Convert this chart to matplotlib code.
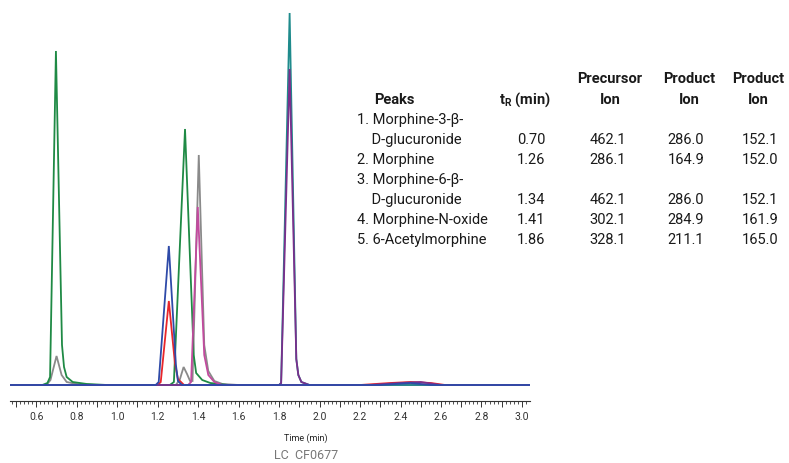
import matplotlib
matplotlib.use("Agg")
import matplotlib.pyplot as plt

# ----------------------
# Chromatogram traces (time in min, response)
# ----------------------
gray_t = [0.47, 0.65, 0.67, 0.70, 0.725, 0.75, 0.80, 0.90, 1.29, 1.31, 1.328, 1.345,
          1.36, 1.372, 1.403, 1.43, 1.45, 1.48, 1.52, 1.60, 3.04]
gray_h = [0, 0, 5, 29, 10, 3, 1, 0, 0, 6, 18, 11, 4, 4, 230, 40, 14, 4, 1, 0, 0]

green_t = [0.47, 0.63, 0.655, 0.668, 0.697, 0.727, 0.737, 0.75, 0.78, 0.85, 0.95,
           1.26, 1.28, 1.335, 1.378, 1.39, 1.42, 1.46, 1.55, 3.04]
green_h = [0, 0, 2, 8, 334, 40, 18, 8, 3, 1, 0, 0, 3, 256, 30, 12, 5, 2, 0, 0]

red_t = [0.47, 1.20, 1.215, 1.255, 1.285, 1.30, 1.33, 2.20, 2.35, 2.45, 2.55, 2.62, 3.04]
red_h = [0, 0, 3, 84, 22, 6, 0, 0, 2, 3, 2, 0, 0]

magenta_t = [0.47, 1.35, 1.365, 1.398, 1.43, 1.45, 1.48, 1.52, 3.04]
magenta_h = [0, 0, 3, 178, 30, 10, 3, 0, 0]

teal_t = [0.47, 1.80, 1.81, 1.852, 1.885, 1.895, 1.91, 1.95, 3.04]
teal_h = [0, 0, 2, 372, 26, 10, 3, 0, 0]

purple_t = [0.47, 1.80, 1.81, 1.852, 1.885, 1.895, 1.91, 1.95, 2.25, 2.40, 2.50, 2.60, 3.04]
purple_h = [0, 0, 2, 316, 26, 10, 3, 0, 0, 2, 3, 0, 0]

blue_t = [0.47, 1.19, 1.205, 1.255, 1.29, 1.30, 1.32, 2.30, 2.45, 2.55, 3.04]
blue_h = [0, 0, 3, 139, 20, 4, 0, 0, 2, 0, 0]

# ----------------------
# Table
# ----------------------
peak_names = ["1. Morphine-3-β-\n    D-glucuronide", "2. Morphine",
              "3. Morphine-6-β-\n    D-glucuronide", "4. Morphine-N-oxide",
              "5. 6-Acetylmorphine"]
tr_values = ["0.70", "1.26", "1.34", "1.41", "1.86"]
precursor = ["462.1", "286.1", "462.1", "302.1", "328.1"]
product1 = ["286.0", "164.9", "286.0", "284.9", "211.1"]
product2 = ["152.1", "152.0", "152.1", "161.9", "165.0"]

tick_vals = [round(0.5 + 0.1 * i, 1) for i in range(26)]
label_vals = [0.6, 0.8, 1.0, 1.2, 1.4, 1.6, 1.8, 2.0, 2.2, 2.4, 2.6, 2.8, 3.0]

plt.rcParams["font.family"] = ["Roboto", "DejaVu Sans"]

fig = plt.figure(figsize=(7.89, 4.64), dpi=100)
W, H = 789, 464
ax = fig.add_axes([10 / W, 1 - 402 / H, 520 / W, 392 / H])

traces = [
    (gray_t, gray_h, "#8a8a8a"),
    (green_t, green_h, "#1f8a45"),
    (red_t, red_h, "#e8262b"),
    (magenta_t, magenta_h, "#c24a9e"),
    (teal_t, teal_h, "#1f8b8c"),
    (purple_t, purple_h, "#7a2f8c"),
    (blue_t, blue_h, "#2e4aa8"),
]
for t, h, c in traces:
    ax.plot(t, h, color=c, lw=1.3, solid_joinstyle="miter")

ax.set_xlim(0.47, 3.04)
ax.set_ylim(-16, 376)
ax.set_yticks([])
for s in ["left", "right", "top"]:
    ax.spines[s].set_visible(False)
ax.spines["bottom"].set_color("#333333")
ax.spines["bottom"].set_linewidth(0.8)

ax.set_xticks(tick_vals)
ax.set_xticklabels([f"{v:.1f}" if v in label_vals else "" for v in tick_vals])
ax.set_xticks([x / 100 for x in range(48, 304, 2)], minor=True)
ax.tick_params(axis="x", which="major", length=4, width=0.7, color="#333333",
               labelsize=7.5, pad=3, labelcolor="#333333")
ax.tick_params(axis="x", which="minor", length=2.5, width=0.6, color="#333333")

fig.text(306 / W, 1 - 438 / H, "Time (min)", ha="center", va="center",
         fontsize=6.5, color="#222222")
fig.text(306 / W, 1 - 456 / H, "LC  CF0677", ha="center", va="center",
         fontsize=9, color="#777777")

fs = 10.5
tc = "#1a1a1a"


def ft(x, y, s, **kw):
    fig.text(x / W, 1 - y / H, s, fontsize=fs, color=tc, va="center", **kw)


ft(374, 100, "Peaks", ha="left", fontweight="bold")
ft(525, 100, "t$_\\mathregular{R}$ (min)", ha="center", fontweight="bold")
for cx, top in [(610, "Precursor"), (689, "Product"), (758, "Product")]:
    ft(cx, 79, top, ha="center", fontweight="bold")
    ft(cx, 100, "Ion", ha="center", fontweight="bold")

row_y = [140, 160, 200, 220, 240]
for i, y in enumerate(row_y):
    lines = peak_names[i].split("\n")
    if len(lines) == 2:
        ft(357, y - 20, lines[0], ha="left")
        ft(357, y, lines[1], ha="left")
    else:
        ft(357, y, lines[0], ha="left")
    ft(531, y, tr_values[i], ha="center")
    ft(608, y, precursor[i], ha="center")
    ft(686, y, product1[i], ha="center")
    ft(760, y, product2[i], ha="center")

fig.savefig("out.png", dpi=100)
